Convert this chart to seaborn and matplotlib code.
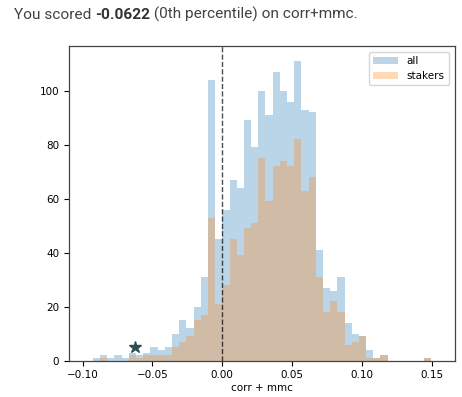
import numpy as np
import pandas as pd
import matplotlib
matplotlib.use("Agg")
import matplotlib.pyplot as plt
import seaborn as sns

# histogram counts, 47 shared bins
bin_edges = list(np.linspace(-0.0927, 0.1494, 48))
all_counts = [1, 2, 1, 2, 1, 3, 2, 3, 5, 4, 5, 10, 15, 12, 20, 31, 104, 45,
              56, 67, 64, 89, 79, 100, 91, 107, 100, 96, 111, 93, 92, 41, 27, 26,
              31, 14, 10, 9, 4, 1, 2, 0, 0, 0, 0, 0, 1]
staker_counts = [0, 1, 0, 0, 0, 2, 1, 2, 2, 2, 2, 5, 7, 9, 15, 17, 53, 21,
                 28, 45, 39, 49, 51, 75, 59, 72, 74, 72, 82, 63, 68, 31, 18, 22,
                 18, 6, 7, 9, 1, 1, 2, 0, 0, 0, 0, 0, 1]
my_score = -0.0622
my_count = 5
x_ticks = [-0.10, -0.05, 0.00, 0.05, 0.10, 0.15]

centers = [(a + b) / 2 for a, b in zip(bin_edges[:-1], bin_edges[1:])]
df = pd.DataFrame({"x": centers, "all": all_counts, "stakers": staker_counts})

fig = plt.figure(figsize=(4.62, 3.97), dpi=100)
ax = fig.add_axes([0.1494, 0.0914, 0.8354, 0.7935])

sns.histplot(data=df, x="x", weights="all", bins=bin_edges, color="C0",
             alpha=0.3, linewidth=0, label="all", ax=ax)
sns.histplot(data=df, x="x", weights="stakers", bins=bin_edges, color="C1",
             alpha=0.3, linewidth=0, label="stakers", ax=ax)

ax.axvline(0, color="black", linestyle="--", linewidth=1, alpha=0.7)
ax.plot([my_score], [my_count], marker="*", color="darkslategray",
        markersize=9, linestyle="none")

ax.set_xlim(-0.1098, 0.1667)
ax.set_ylim(0, 116.7)
ax.set_xticks(x_ticks)
ax.set_yticks([0, 20, 40, 60, 80, 100])
ax.tick_params(labelsize=7.5, length=3.5, width=0.8)
ax.set_xlabel("corr + mmc", fontsize=7.5, labelpad=2)
ax.set_ylabel("")
for s in ax.spines.values():
    s.set_color("#444444")
    s.set_linewidth(0.9)
ax.legend(loc="upper right", fontsize=7.5, handlelength=2.4, borderaxespad=0.6)

# heading with bold score
fs = 11.1
t1 = fig.text(0.030, 0.952, "You scored ", fontsize=fs, family="Roboto",
              color="#424242", va="baseline")
t2 = fig.text(0, 0, "-0.0622", fontsize=fs, family="Roboto", weight="bold",
              color="#333333", va="baseline")
t3 = fig.text(0, 0, " (0th percentile) on corr+mmc.", fontsize=fs,
              family="Roboto", color="#424242", va="baseline")
fig.canvas.draw()
r = fig.canvas.get_renderer()
inv = fig.transFigure.inverted()
b1 = t1.get_window_extent(r)
x2 = inv.transform((b1.x1, 0))[0]
t2.set_position((x2, 0.952))
fig.canvas.draw()
b2 = t2.get_window_extent(r)
x3 = inv.transform((b2.x1, 0))[0]
t3.set_position((x3, 0.952))

fig.savefig("out.png", dpi=100)
